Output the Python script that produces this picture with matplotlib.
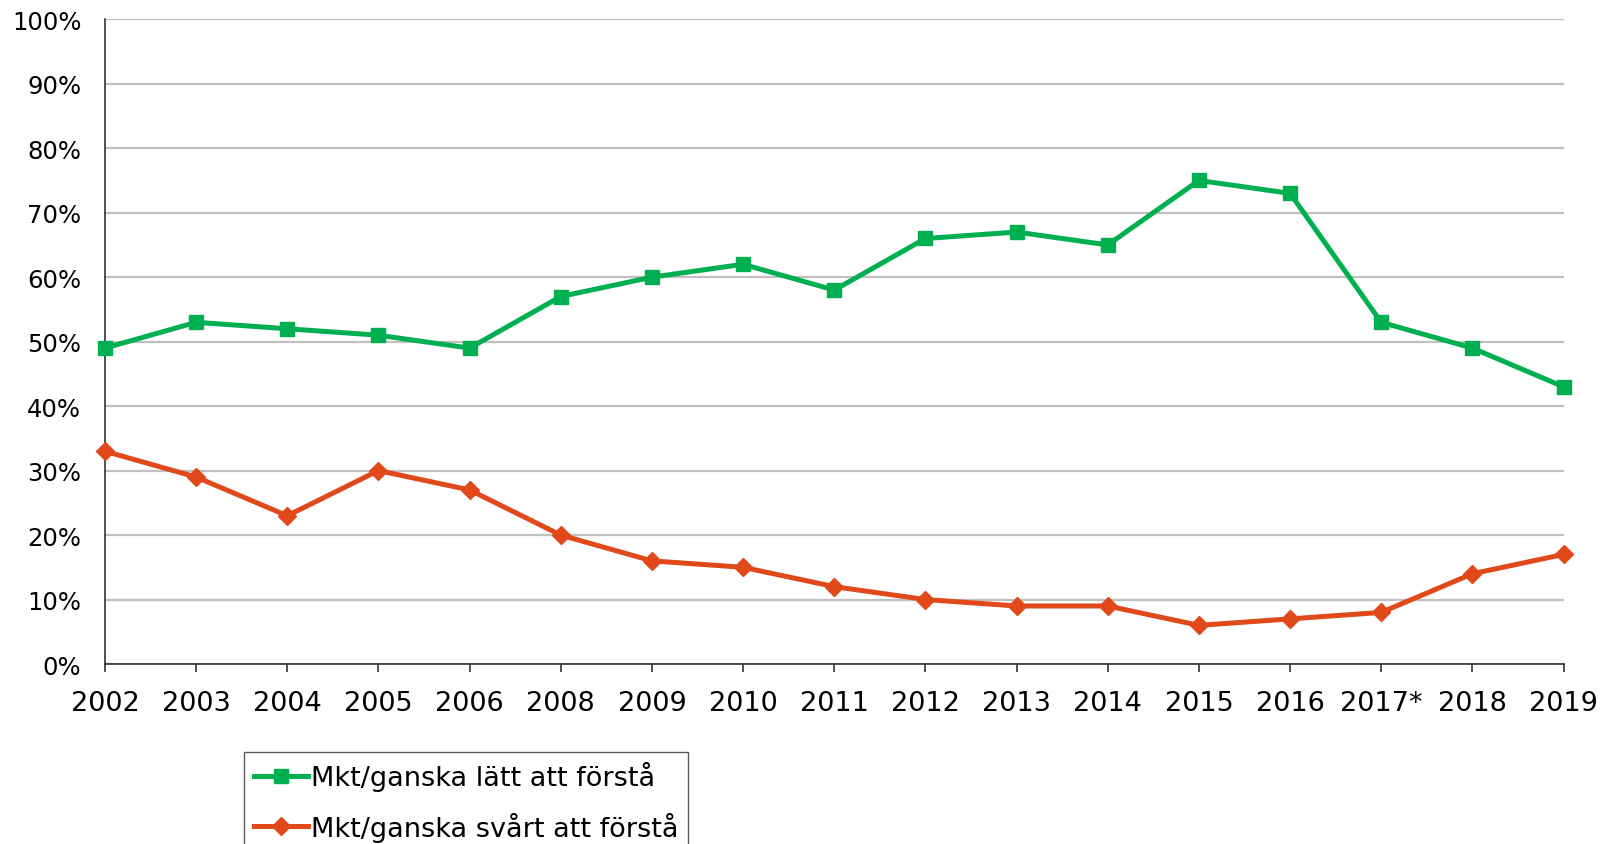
import matplotlib
matplotlib.use("Agg")
import matplotlib.pyplot as plt
from matplotlib.ticker import FuncFormatter

years = ["2002", "2003", "2004", "2005", "2006", "2008", "2009", "2010", "2011",
         "2012", "2013", "2014", "2015", "2016", "2017*", "2018", "2019"]
easy = [49, 53, 52, 51, 49, 57, 60, 62, 58, 66, 67, 65, 75, 73, 53, 49, 43]
hard = [33, 29, 23, 30, 27, 20, 16, 15, 12, 10, 9, 9, 6, 7, 8, 14, 17]
label_easy = "Mkt/ganska lätt att förstå"
label_hard = "Mkt/ganska svårt att förstå"

plt.rcParams['font.family'] = ['DejaVu Sans']

fig = plt.figure(figsize=(16.02, 8.45), dpi=100)
ax = fig.add_axes([0.0655, 0.213, 0.9105, 0.763])

x = list(range(len(years)))
ax.plot(x, easy, color='#00B050', lw=3.6, marker='s', ms=10.5, label=label_easy, zorder=3, clip_on=False)
ax.plot(x, hard, color='#E2491A', lw=3.6, marker='D', ms=9.5, label=label_hard, zorder=3, clip_on=False)

ax.set_xlim(0, len(years) - 1)
ax.set_ylim(0, 100)
ax.set_yticks(range(0, 101, 10))
ax.yaxis.set_major_formatter(FuncFormatter(lambda v, p: f"{int(v)}%"))
ax.set_xticks(x)
ax.set_xticklabels(years)
ax.grid(axis='y', color='#C0C0C0', lw=1.6)
ax.set_axisbelow(True)
for s in ['top', 'right']:
    ax.spines[s].set_visible(False)
ax.spines['left'].set_color('#333333')
ax.spines['bottom'].set_color('#333333')
ax.spines['left'].set_linewidth(1.2)
ax.spines['bottom'].set_linewidth(1.2)
ax.tick_params(axis='y', length=0, labelsize=17.5, pad=17)
ax.tick_params(axis='x', length=6, width=1.2, color='#333333', labelsize=19.5, pad=13, direction='out')

leg = fig.legend(loc='upper left', bbox_to_anchor=(0.1525, 0.109), fontsize=19.5,
                 frameon=True, fancybox=False, edgecolor='#333333', handlelength=2.0,
                 handletextpad=0.1, borderpad=0.35, labelspacing=0.75, borderaxespad=0)
leg.get_frame().set_linewidth(1.0)

fig.savefig("out.png", dpi=100)
